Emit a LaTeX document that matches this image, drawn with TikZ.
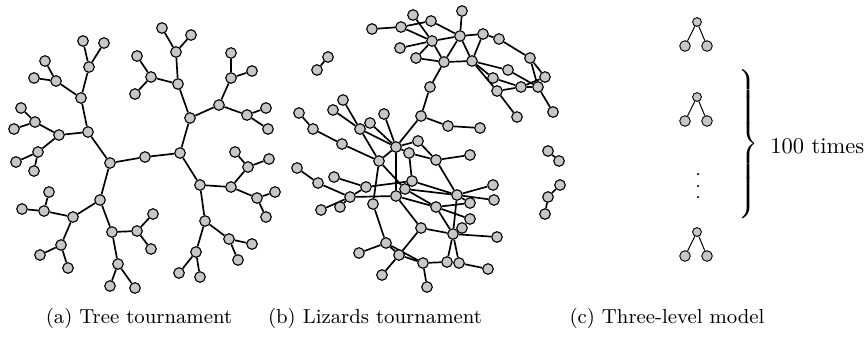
\documentclass[tikz,border=0pt]{standalone}
\pgfdeclarelayer{bg}
\pgfsetlayers{bg,main}
\begin{document}
\begin{tikzpicture}[x=0.4444pt,y=-0.4444pt,
  vtx/.style={circle,draw=black,line width=0.5pt,fill=black!22,inner sep=0pt,minimum size=4.7pt},
  vtxs/.style={circle,draw=black,line width=0.4pt,fill=black!22,inner sep=0pt,minimum size=3.9pt},
  vtxm/.style={circle,draw=black,line width=0.4pt,fill=black!22,inner sep=0pt,minimum size=4.7pt},
  edge/.style={line width=0.75pt},
  edgethin/.style={line width=0.45pt},
  dotmark/.style={circle,fill=black,inner sep=0pt,minimum size=1.1pt},
  caption/.style={font=\small,anchor=base,inner sep=0pt}]
\useasboundingbox (0,0) rectangle (864,339);

% ---------- (a) tree tournament ----------
\foreach \n/\x/\y in {t1/110/163,t2/145/157,t3/180/153,t4/88/132,t5/100/200,t6/81/98,t7/59/135,
  t8/89/67,t9/56/81,t10/83/41,t11/104/43,t12/45/61,t13/34/78,t14/35/122,t15/38/152,t16/21/108,
  t17/14/129,t18/16/162,t19/34/171,t20/73/217,t21/112/232,t22/44/211,t23/61/245,t24/49/192,
  t25/22/209,t26/40/255,t27/68/268,t28/137/231,t29/118/264,t30/153/214,t31/151/249,t32/110/286,
  t33/135/288,t34/190/118,t35/200/185,t36/178/84,t37/219/105,t38/176/52,t39/151/77,t40/162/28,
  t41/191/35,t42/137/56,t43/135/94,t44/231/78,t45/247/115,t46/231/53,t47/252/71,t48/266/108,
  t49/268/129,t50/231/187,t51/205/221,t52/248/167,t53/257/198,t54/235/152,t55/269/159,
  t56/275/192,t57/266/217,t58/229/239,t59/196/252,t60/252/244,t61/238/260,t62/179/273,t63/200/277}
  \node[vtx] (\n) at (\x,\y) {};
\begin{pgfonlayer}{bg}
\foreach \u/\v in {t1/t2,t2/t3,t1/t4,t1/t5,t4/t6,t4/t7,t6/t8,t6/t9,t8/t10,t8/t11,t9/t12,t9/t13,
  t7/t14,t7/t15,t14/t16,t14/t17,t15/t18,t15/t19,t5/t20,t5/t21,t20/t22,t20/t23,t22/t24,t22/t25,
  t23/t26,t23/t27,t21/t28,t21/t29,t28/t30,t28/t31,t29/t32,t29/t33,
  t3/t34,t3/t35,t34/t36,t34/t37,t36/t38,t36/t39,t38/t40,t38/t41,t39/t42,t39/t43,t37/t44,t37/t45,
  t44/t46,t44/t47,t45/t48,t45/t49,t35/t50,t35/t51,t50/t52,t50/t53,t52/t54,t52/t55,t53/t56,
  t53/t57,t51/t58,t51/t59,t58/t60,t58/t61,t59/t62,t59/t63}
  \draw[edge] (\u) -- (\v);
\end{pgfonlayer}

% ---------- (b) lizards tournament ----------
\foreach \n/\x/\y in {lA/372/29,lB/401/27,lC/413/15,lD/431/21,lE/432/41,lF/400/48,lG/416/58,
  lH/444/62,lI/462/11,lJ/460/36,lK/472/61,lL/483/34,lM/499/39,lN/530/58,lO/508/70,lP/493/78,
  lQ/497/91,lR/521/87,lS/538/87,lT/430/87,lU/545/77,lV/553/112,lW/517/117,lX/421/116,
  lY/448/126,lZ/480/128,
  m1/343/100,m2/333/110,m3/299/113,m4/370/123,m5/360/129,m6/384/114,m7/313/129,m8/342/144,
  m9/396/147,m10/418/141,m11/409/153,m12/436/160,m13/470/155,m14/379/161,m15/297/168,
  m16/318/183,m17/334/177,m18/366/187,m19/412/181,m20/405/189,m21/350/197,m22/396/196,
  m23/457/195,m24/470/203,m25/493/185,m26/494/200,m27/373/204,m28/340/207,m29/321/210,
  m30/436/207,m31/470/219,m32/462/228,m33/453/234,m34/497/237,m35/421/228,m36/386/243,
  m37/359/253,m38/399/255,m39/423/263,m40/447/262,m41/459/263,m42/488/269,m43/382/275,
  m44/427/287,
  p1/328/57,p2/317/70,q1/548/151,q2/559/161,r1/560/185,r2/548/197,r3/545/214}
  \node[vtx] (\n) at (\x,\y) {};
\begin{pgfonlayer}{bg}
\foreach \u/\v in {lA/lB,lB/lD,lB/lE,lC/lE,lD/lJ,lE/lF,lE/lJ,lE/lG,lE/lH,lG/lH,lI/lJ,lJ/lL,
  lJ/lH,lJ/lK,lL/lK,lL/lM,lM/lN,lH/lK,lH/lT,lK/lO,lK/lP,lK/lQ,lO/lS,lP/lR,lQ/lR,lR/lS,lR/lU,
  lN/lS,lN/lU,lS/lV,lQ/lW,lT/lX,lX/lY,lY/lZ,lX/m9,
  m3/m7,m7/m8,m8/m14,m1/m5,m2/m5,m5/m9,m4/m9,m6/m9,m5/m14,m14/m9,m9/m10,m10/m12,m9/m11,
  m11/m12,m12/m13,m14/m27,m14/m20,m9/m22,m11/m19,m15/m16,m16/m21,m17/m18,m18/m19,m21/m22,
  m21/m29,m21/m18,m28/m21,m19/m23,m20/m23,m20/m30,m22/m30,m22/m35,m12/m23,m23/m25,m23/m26,
  m23/m24,m24/m30,m30/m31,m30/m33,m23/m33,m32/m33,m33/m34,m35/m33,m33/m40,m33/m41,m41/m42,
  m39/m40,m39/m44,m38/m39,m36/m38,m36/m39,m35/m38,m38/m43,m27/m36,m37/m36,
  p1/p2,q1/q2,r1/r2,r2/r3}
  \draw[edge] (\u) -- (\v);
\end{pgfonlayer}

% ---------- (c) three-level model ----------
\foreach \k/\y in {1/22,2/97,3/232}{
  \node[vtxs] (c\k t) at (697,\y) {};
  \node[vtxm] (c\k l) at (685,\y+24) {};
  \node[vtxm] (c\k r) at (707,\y+24) {};
  \begin{pgfonlayer}{bg}
  \draw[edgethin] (c\k t) -- (c\k l);
  \draw[edgethin] (c\k t) -- (c\k r);
  \end{pgfonlayer}
}
\node[dotmark] (d1) at (698,174) {};
\node[dotmark] (d2) at (698,186) {};
\node[dotmark] (d3) at (698,197) {};
\node[inner sep=0pt] (brace) at (747,144)
  {$\delimitershortfall=0pt\delimiterfactor=1000\left.\rule[-28pt]{0pt}{56pt}\right\}$};
\node[anchor=west,inner sep=0pt] (times) at (770,146) {100 times};

% ---------- captions ----------
\node[caption] (capa) at (139,323) {(a) Tree tournament};
\node[caption] (capb) at (375,323) {(b) Lizards tournament};
\node[caption] (capc) at (667,323) {(c) Three-level model};
\end{tikzpicture}
\end{document}
